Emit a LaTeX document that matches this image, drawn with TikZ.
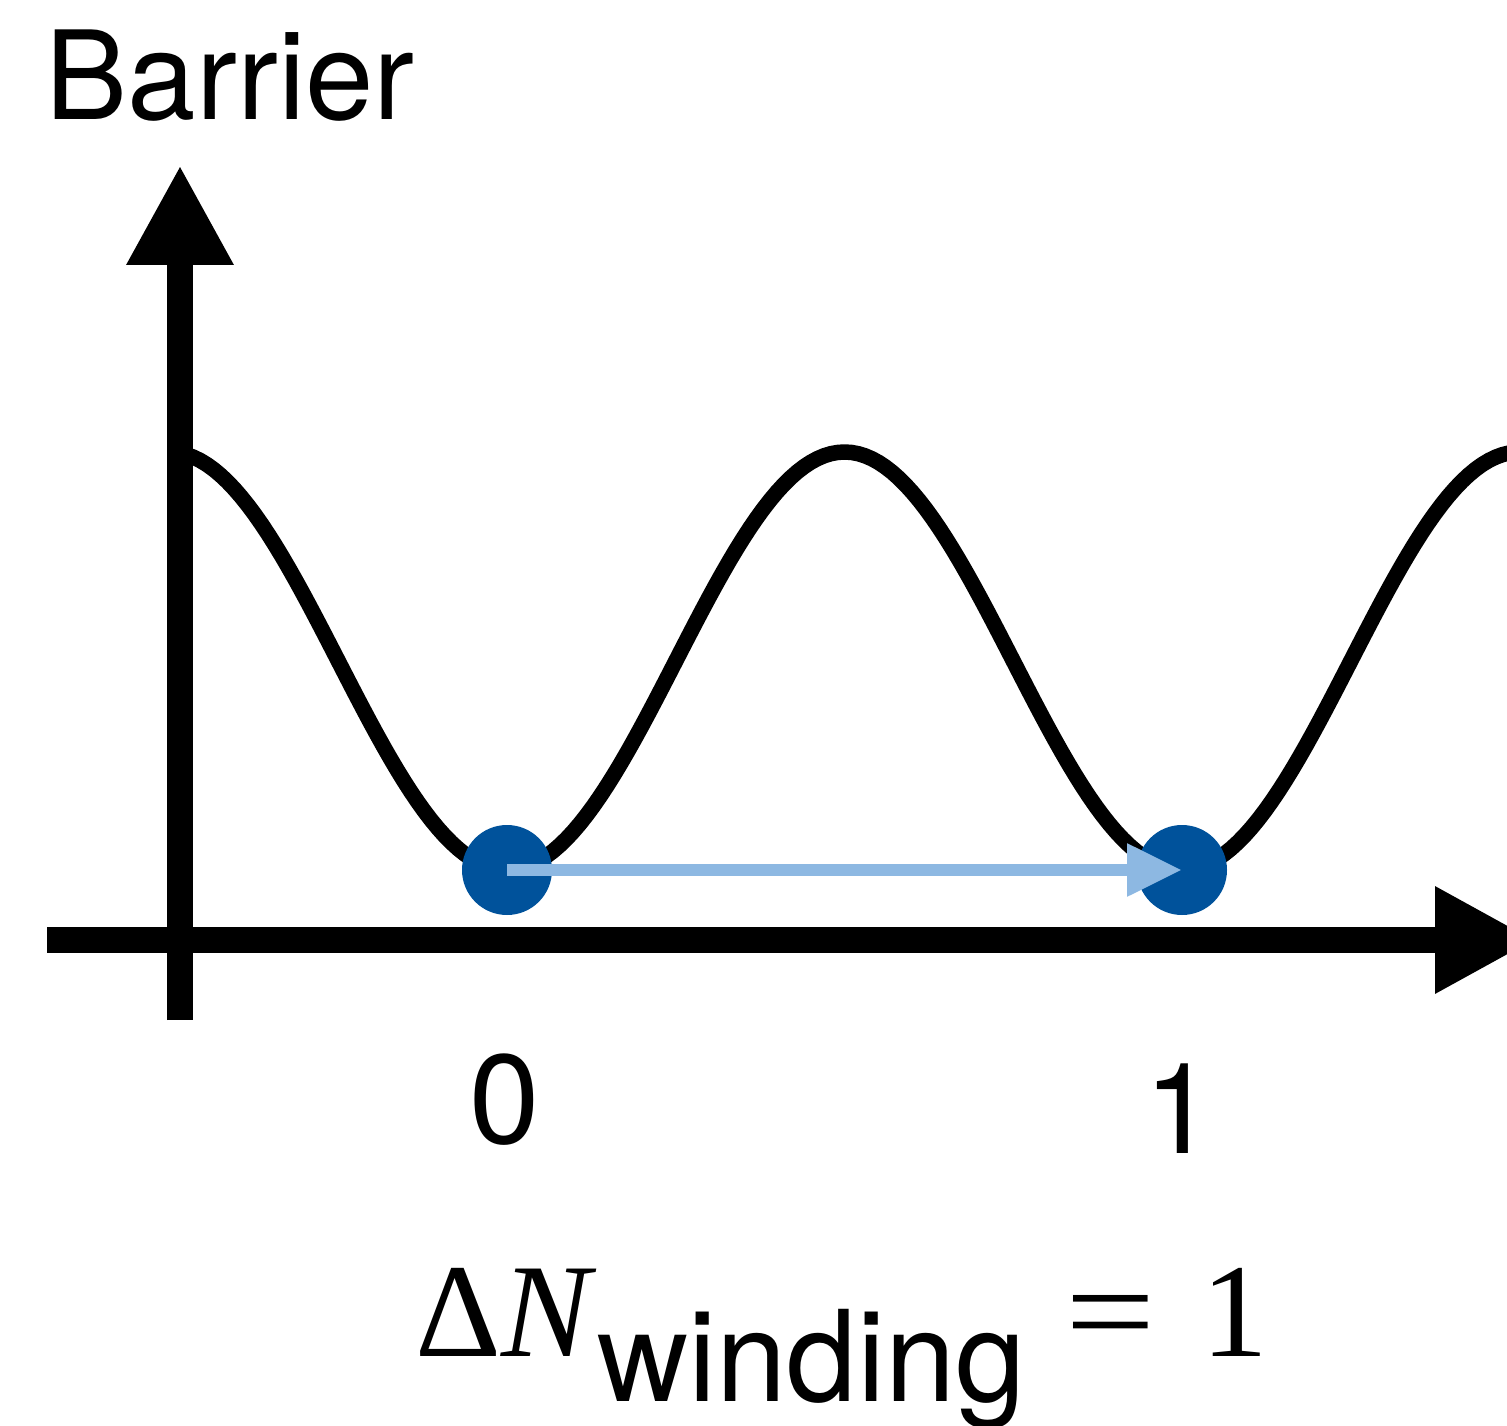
\documentclass[tikz,border=0pt]{standalone}
\usepackage{amsmath,amssymb}
\usepackage{fontspec}
\newfontfamily\heros{TeX Gyre Heros}
\newfontfamily\tms{Liberation Serif}
\usetikzlibrary{arrows.meta, positioning, calc}
\definecolor{DotBlue}{HTML}{00529B}
\definecolor{ShiftBlue}{HTML}{8DB8E2}
\tikzset{
  axisline/.style={line width=0.26cm, -{Triangle[length=1.0cm, width=1.0cm]}},
  potline/.style={line width=0.155cm, line join=round},
  wellpt/.style={circle, fill=DotBlue, minimum size=0.9cm, inner sep=0pt},
  ticklbl/.style={font=\heros\fontsize{36}{40}\selectfont, inner sep=0pt, anchor=base},
}
\begin{document}
\begin{tikzpicture}[
          hoparr/.style={-{Triangle[length=0.55cm, width=0.5cm]}, line width=0.12cm, color=ShiftBlue},
        ]
          \useasboundingbox (0,0) rectangle (15.07,14.25);
          % axes
          \coordinate (ybot) at (1.80,4.05);
          \coordinate (ytop) at (1.80,12.60);
          \coordinate (xl) at (0.47,4.85);
          \coordinate (xr) at (15.35,4.85);
          \draw[potline] plot[domain=1.8:15.3, samples=200]
            (\x, {7.64-2.09*cos(360*(\x-5.07)/6.75)});
          \draw[axisline] (ybot) -- (ytop);
          \draw[axisline] (xl) -- (xr);
          \node[anchor=base west, inner sep=0pt, font=\heros\fontsize{35}{38}\selectfont]
            (ylbl) at (0.45,13.05) {Barrier};
          % the two minima
          \node[wellpt] (m0) at (5.07,5.55) {};
          \node[wellpt] (m1) at (11.82,5.55) {};
          \draw[hoparr] (m0.center) -- (m1.center);
          \node[ticklbl] (t0) at (5.05,2.82) {0};
          \node[ticklbl] (t1) at (11.80,2.72) {1};
          \node[anchor=base, inner sep=0pt, font=\tms\fontsize{38}{40}\selectfont]
            (wind) at (8.42,0.69)
            {Δ\textit{N}\raisebox{-0.45cm}{\heros\fontsize{36}{40}\selectfont winding}\hspace{0.4cm}\scalebox{1.2}[1]{=}\hspace{0.45cm}1};
        \end{tikzpicture}
\end{document}
